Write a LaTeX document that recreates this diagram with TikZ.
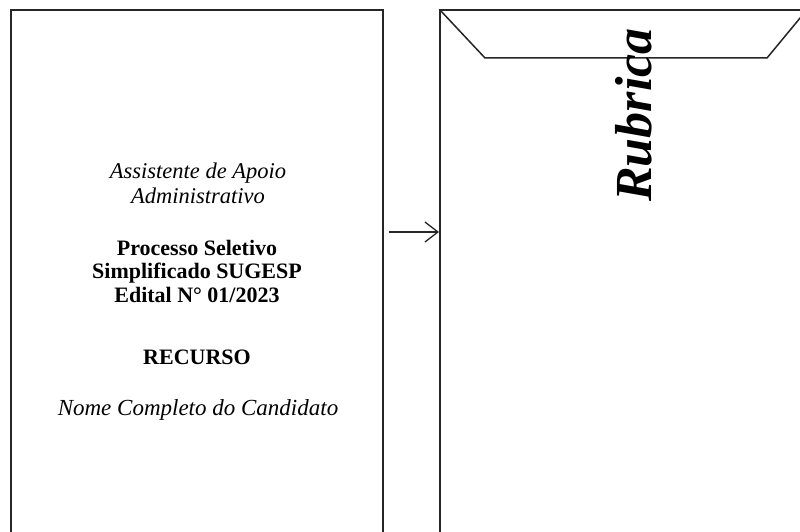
\documentclass[tikz,border=0pt]{standalone}
\usepackage{fontspec}
\setmainfont{Liberation Serif}
\usetikzlibrary{arrows.meta}
\begin{document}
\begin{tikzpicture}[x=1pt,y=-1pt,
  edge/.style={draw=black!85,line width=1.5pt},
  txt/.style={align=center,inner sep=0pt}]
\useasboundingbox (0,0) rectangle (800,532);
\fill[white] (0,0) rectangle (800,532);
% left sheet
\path[edge] (11,540) -- (11,10) -- (383,10) -- (383,540);
% envelope
\path[edge] (440,540) -- (440,10) -- (810,10);
\path[edge] (440,10) -- (485,58) -- (767,58) -- (810,6);
\coordinate (el) at (439,232);
\coordinate (ls) at (389,232);
\draw[line width=1.3pt,black!85,-{Straight Barb[length=13pt,width=20pt]}] (ls) -- (el);
% texts
\node[txt,font=\itshape\fontsize{22.5}{25}\selectfont] (t1) at (198,183) {Assistente de Apoio\\Administrativo};
\node[txt,font=\bfseries\fontsize{22}{23.5}\selectfont] (t2) at (197,271) {Processo Seletivo\\Simplificado SUGESP\\Edital N° 01/2023};
\node[txt,font=\bfseries\fontsize{22}{24}\selectfont] (t3) at (197,357) {RECURSO};
\node[txt,font=\itshape\fontsize{23}{25}\selectfont] (t4) at (198,410) {Nome Completo do Candidato};
\node[inner sep=0pt,rotate=90,font=\bfseries\itshape\fontsize{52}{56}\selectfont] (rub) at (634,115) {Rubrica};
\end{tikzpicture}
\end{document}
